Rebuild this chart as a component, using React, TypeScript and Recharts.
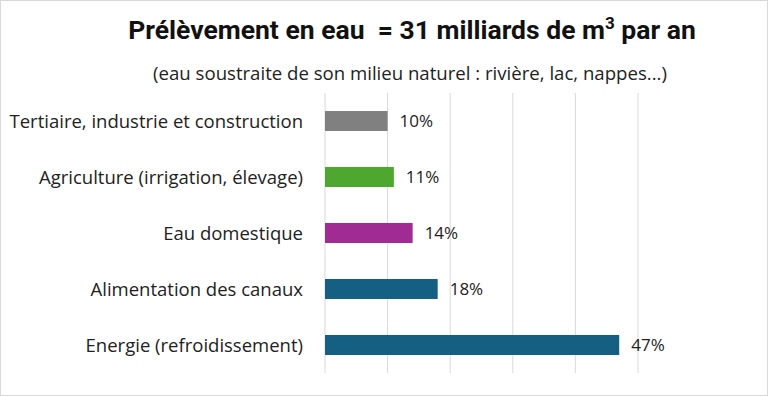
import { Bar, BarChart, CartesianGrid, Cell, LabelList, XAxis, YAxis } from "recharts"

// Categories from top to bottom
const categories = [
  "Tertiaire, industrie et construction",
  "Agriculture (irrigation, élevage)",
  "Eau domestique",
  "Alimentation des canaux",
  "Energie (refroidissement)",
]
const shares = [10, 11, 14, 18, 47]
const barColors = ["#808080", "#4EA72E", "#A02B93", "#156082", "#156082"]
const xTicks = [0, 10, 20, 30, 40, 50]

const data = categories.map((name, i) => ({ name, value: shares[i] }))

const font = "'Open Sans', 'Noto Sans', sans-serif"

const App = () => {
  return (
    <div
      style={{
        position: "absolute",
        left: 0,
        top: 0,
        width: 766,
        height: 394,
        border: "1px solid #d9d9d9",
        background: "#fff",
        fontFamily: font,
      }}
    >
      <div
        style={{
          position: "absolute",
          top: 12,
          left: 52,
          width: 718,
          textAlign: "center",
          fontSize: 26.5,
          fontWeight: 700,
          color: "#111",
          fontFamily: "Roboto, sans-serif",
        }}
      >
        Prélèvement en eau&nbsp; = 31 milliards de m<sup style={{ fontSize: 17 }}>3</sup> par an
      </div>
      <div
        style={{
          position: "absolute",
          top: 59,
          left: 52,
          width: 714,
          textAlign: "center",
          fontSize: 18.6,
          color: "#222",
        }}
      >
        (eau soustraite de son milieu naturel : rivière, lac, nappes...)
      </div>
      <div style={{ position: "absolute", left: -1, top: -1 }}>
        <BarChart
          width={768}
          height={396}
          data={data}
          layout="vertical"
          margin={{ top: 93, right: 130, bottom: 23, left: 8 }}
          barCategoryGap={18}
        >
          <CartesianGrid horizontal={false} stroke="#d9d9d9" />
          <XAxis
            type="number"
            domain={[0, 50]}
            ticks={xTicks}
            interval={0}
            tick={() => <g />}
            axisLine={false}
            tickLine={false}
            height={0}
          />
          <YAxis
            type="category"
            dataKey="name"
            width={317}
            axisLine={false}
            tickLine={false}
            tickSize={0}
            tickMargin={22}
            tick={{ fontSize: 18.5, fill: "#222", fontFamily: font }}
          />
          <Bar dataKey="value" isAnimationActive={false} barSize={20}>
            {data.map((d, i) => (
              <Cell key={d.name} fill={barColors[i]} />
            ))}
            <LabelList
              dataKey="value"
              position="right"
              offset={12}
              formatter={(v: any) => `${v}%`}
              style={{ fontSize: 17, fill: "#222", fontFamily: font }}
            />
          </Bar>
        </BarChart>
      </div>
    </div>
  )
}

export default App
